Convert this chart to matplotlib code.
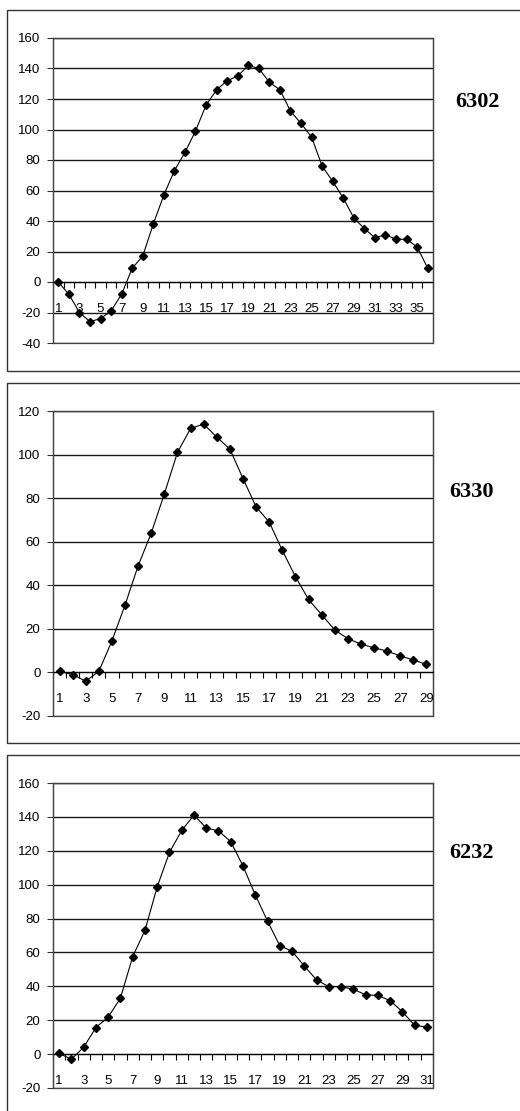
import matplotlib.pyplot as plt
from matplotlib.patches import Rectangle
import numpy as np

plt.rcParams['font.family'] = ['Liberation Sans', 'DejaVu Sans']
plt.rcParams['axes.unicode_minus'] = False

# Series for each sample
names = ["6302", "6330", "6232"]

vals_6302 = [0, -8, -20, -26, -24, -19, -8, 9, 17, 38, 57, 73, 85, 99, 116, 126,
             132, 135, 142, 140, 131, 126, 112, 104, 95, 76, 66, 55, 42, 35, 29,
             31, 28, 28, 23, 9]
vals_6330 = [0.5, -1, -4, 0.5, 14.5, 31, 49, 64, 82, 101, 112, 114, 108, 102.5,
             89, 76, 69, 56, 44, 33.5, 26.5, 19.5, 15.5, 13, 11.3, 9.8, 7.6, 5.7, 3.7]
vals_6232 = [0.4, -3, 4, 15.7, 21.8, 33, 57.5, 73, 98.7, 119, 132, 141, 133.5,
             131.7, 125.4, 111, 94, 78.5, 64, 60.7, 52, 43.8, 39.8, 39.8, 38.3,
             35, 34.6, 31.6, 25, 17, 16]

series = [vals_6302, vals_6330, vals_6232]
y_ranges = [(-40, 160), (-20, 120), (-20, 160)]

W, H = 520, 1111
fig = plt.figure(figsize=(W / 100, H / 100), dpi=100)

# pixel layout: (frame_top, frame_bottom, axes_top, axes_bottom)
layout = [(10, 371, 38, 343), (383, 743, 411, 716), (755, 1120, 783, 1088)]
ax_left, ax_right = 53, 433
label_pos = [(477, 102), (472, 492), (472, 853)]

for name, vals, (ymin, ymax), (ft, fb, at, ab), (lx, ly) in zip(
        names, series, y_ranges, layout, label_pos):
    # outer chart frame
    fig.patches.append(Rectangle((7 / W, 1 - fb / H), 1.0, (fb - ft) / H,
                                 transform=fig.transFigure, fill=False,
                                 edgecolor='#333333', linewidth=1.0))

    ax = fig.add_axes([ax_left / W, 1 - ab / H, (ax_right - ax_left) / W, (ab - at) / H])
    n = len(vals)
    x = np.arange(1, n + 1)
    ax.plot(x, vals, color='black', linewidth=0.8, marker='D',
            markersize=4.2, markerfacecolor='black', markeredgecolor='black')

    ax.set_xlim(0.5, n + 0.5)
    ax.set_ylim(ymin, ymax)

    # y axis with gridlines
    ax.set_yticks(np.arange(ymin, ymax + 1, 20))
    ax.yaxis.grid(True, color='#1a1a1a', linewidth=1.0)
    ax.set_axisbelow(True)
    ax.tick_params(axis='y', direction='out', length=4, width=0.8,
                   labelsize=9.5, pad=5, color='#333333')

    # category axis crosses at zero
    ax.spines['bottom'].set_position(('data', 0))
    ax.spines['bottom'].set_color('black')
    for side in ['top', 'right', 'left']:
        ax.spines[side].set_color('#444444')
        ax.spines[side].set_linewidth(0.9)
    ax.add_patch(Rectangle((0, 0), 1, 1, transform=ax.transAxes, fill=False,
                           edgecolor='#444444', linewidth=0.9, clip_on=False))

    ax.set_xticks(np.arange(0.5, n + 0.6, 1))
    ax.set_xticks(x[::2], minor=True)
    ax.set_xticklabels([str(v) for v in x[::2]], minor=True)
    ax.tick_params(axis='x', which='major', direction='out', length=4,
                   width=0.8, labelbottom=False, color='black')
    ax.tick_params(axis='x', which='minor', length=0, pad=15, labelsize=9.5)

    fig.text(lx / W, 1 - ly / H, name, ha='center', va='center',
             fontsize=16, fontweight='bold', family=['Liberation Serif', 'DejaVu Serif'])

plt.savefig("out.png", dpi=100, facecolor='white')
